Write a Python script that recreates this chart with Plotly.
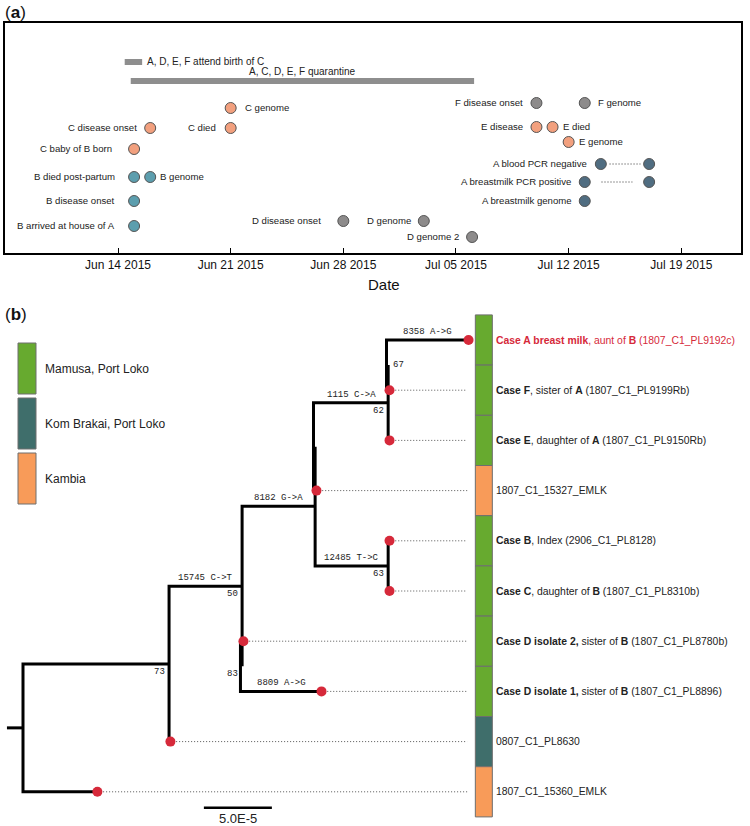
import plotly.graph_objects as go
import pandas as pd

# ======================= DATA =======================
# ---- Panel (a): timeline of events ----
event_labels = ["B arrived at house of A", "B disease onset", "B died post-partum", "B genome",
                "C baby of B born", "C disease onset", "C died", "C genome",
                "D disease onset", "D genome", "D genome 2",
                "E disease", "E died", "E genome",
                "F disease onset", "F genome",
                "A breastmilk genome"]
event_dates = ["2015-06-15", "2015-06-15", "2015-06-15", "2015-06-16",
               "2015-06-15", "2015-06-16", "2015-06-21", "2015-06-21",
               "2015-06-28", "2015-07-03", "2015-07-06",
               "2015-07-10", "2015-07-11", "2015-07-12",
               "2015-07-10", "2015-07-13",
               "2015-07-13"]
event_levels = [27, 52, 76, 76, 104, 125, 125, 145, 32, 32, 16, 126, 126, 111, 150, 150, 52]
event_person = ["B", "B", "B", "B", "C", "C", "C", "C", "D", "D", "D", "E", "E", "E", "F", "F", "A"]
event_side = ["left", "left", "left", "right", "left", "left", "left", "right",
              "left", "left", "left", "left", "right", "right", "left", "right", "left"]

pcr_labels = ["A blood PCR negative", "A breastmilk PCR positive"]
pcr_first = ["2015-07-14", "2015-07-13"]
pcr_second = ["2015-07-17", "2015-07-17"]
pcr_levels = [89, 71]

period_labels = ["A, D, E, F attend birth of C", "A, C, D, E, F quarantine"]
period_start = ["2015-06-14 10:00", "2015-06-14 19:00"]
period_end = ["2015-06-15 12:00", "2015-07-06 03:00"]
period_levels = [191, 172]

# ---- Panel (b): phylogeny ----
tip_names = ["A", "F", "E", "EMLK15327", "B", "C", "D2", "D1", "PL8630", "EMLK15360"]
tip_labels = ["<b>Case A breast milk</b>, aunt of <b>B</b> (1807_C1_PL9192c)",
              "<b>Case F</b>, sister of <b>A</b> (1807_C1_PL9199Rb)",
              "<b>Case E</b>, daughter of <b>A</b> (1807_C1_PL9150Rb)",
              "1807_C1_15327_EMLK",
              "<b>Case B</b>, Index (2906_C1_PL8128)",
              "<b>Case C</b>, daughter of <b>B</b> (1807_C1_PL8310b)",
              "<b>Case D isolate 2,</b> sister of <b>B</b> (1807_C1_PL8780b)",
              "<b>Case D isolate 1,</b> sister of <b>B</b> (1807_C1_PL8896)",
              "0807_C1_PL8630",
              "1807_C1_15360_EMLK"]
tip_region = ["Mamusa, Port Loko", "Mamusa, Port Loko", "Mamusa, Port Loko", "Kambia",
              "Mamusa, Port Loko", "Mamusa, Port Loko", "Mamusa, Port Loko", "Mamusa, Port Loko",
              "Kom Brakai, Port Loko", "Kambia"]
region_names = ["Mamusa, Port Loko", "Kom Brakai, Port Loko", "Kambia"]

# edges of the tree (branch length in units of 1e-5 substitutions/site)
edge_child = ["n73", "EMLK15360", "n50", "PL8630", "n315", "n83", "D2", "D1",
              "nZ", "n63", "n62", "EMLK15327", "nW", "E", "A", "F", "B", "C"]
edge_parent = ["root", "root", "n73", "n73", "n50", "n50", "n83", "n83",
               "n315", "n315", "nZ", "nZ", "n62", "n62", "nW", "nW", "n63", "n63"]
edge_length = [10.74, 5.37, 5.37, 0.0, 5.37, 0.0, 0.0, 5.74,
               0.0, 5.37, 5.37, 0.0, 0.0, 0.0, 5.81, 0.0, 0.0, 0.0]

mutation_node = ["n50", "n315", "n62", "n63", "A", "D1"]
mutation_text = ["15745 C->T", "8182 G->A", "1115 C->A", "12485 T->C", "8358 A->G", "8809 A->G"]

support_node = ["n73", "n50", "n83", "n62", "n63", "nW"]
support_value = [73, 50, 83, 62, 63, 67]

scale_bar_length = 5.0   # 1e-5 units
scale_bar_label = "5.0E-5"

# ======================= STYLE =======================
SANS = "Liberation Sans, Arial, Helvetica, sans-serif"
MONO = "Liberation Mono, Courier New, monospace"
person_color = {"A": "#506D81", "B": "#5C9EAE", "C": "#F2A07E", "D": "#8D8B8B",
                "E": "#F2A07E", "F": "#8D8B8B"}
region_color = {"Mamusa, Port Loko": "#67AA2F", "Kom Brakai, Port Loko": "#3F6E6B",
                "Kambia": "#F89B59"}
RED = "#D6293A"
TXT = "#222222"
EV_FONT = 9.6

W, H = 750, 826
A_LEFT, A_RIGHT, A_TOP, A_BOTTOM = 5, 741, 23, 253
PX_PER_UNIT = 13.6
ROOT_PX = 23
ROW0_PX = 340
ROW_PX = 50.2
B_TOP_FRAC = 0.64

fig = go.Figure()

# ======================= PANEL (a) =======================
dt = pd.to_datetime(event_dates)
fig.add_trace(go.Scatter(
    x=dt, y=event_levels, mode="markers",
    marker=dict(size=11, color=[person_color[p] for p in event_person],
                line=dict(color="#555555", width=1)),
    hoverinfo="skip", showlegend=False, xaxis="x", yaxis="y"))

gap_override = {"B arrived at house of A": 17, "B disease onset": 17, "B died post-partum": 17,
                "C baby of B born": 20, "D disease onset": 20, "C died": 13,
                "C genome": 12, "F genome": 11}
annotations = []
for lab, d, lev, side in zip(event_labels, dt, event_levels, event_side):
    gap = gap_override.get(lab, 11 if side == "left" else 8)
    annotations.append(dict(
        x=d, y=lev, xref="x", yref="y", text=lab, showarrow=False,
        xanchor="right" if side == "left" else "left",
        xshift=-gap if side == "left" else gap,
        font=dict(family=SANS, size=EV_FONT, color=TXT)))

p1 = pd.to_datetime(pcr_first)
p2 = pd.to_datetime(pcr_second)
fig.add_trace(go.Scatter(
    x=list(p1) + list(p2), y=pcr_levels + pcr_levels, mode="markers",
    marker=dict(size=11, color=person_color["A"], line=dict(color="#555555", width=1)),
    hoverinfo="skip", showlegend=False, xaxis="x", yaxis="y"))
half = pd.Timedelta(hours=23)
for lab, a, b, lev in zip(pcr_labels, p1, p2, pcr_levels):
    mid = a + (b - a) / 2
    fig.add_trace(go.Scatter(
        x=[mid - half, mid + half], y=[lev, lev], mode="lines",
        line=dict(color="#333333", width=1, dash="1px,2px"),
        hoverinfo="skip", showlegend=False, xaxis="x", yaxis="y"))
    annotations.append(dict(
        x=a, y=lev, xref="x", yref="y", text=lab, showarrow=False,
        xanchor="right", xshift=-12,
        font=dict(family=SANS, size=EV_FONT, color=TXT)))

ps = pd.to_datetime(period_start)
pe = pd.to_datetime(period_end)
for i, (lab, s, e, lev) in enumerate(zip(period_labels, ps, pe, period_levels)):
    fig.add_trace(go.Scatter(
        x=[s, e], y=[lev, lev], mode="lines",
        line=dict(color="#8E8E8E", width=6),
        hoverinfo="skip", showlegend=False, xaxis="x", yaxis="y"))
    if i == 0:
        annotations.append(dict(x=e, y=lev, xref="x", yref="y", text=lab, showarrow=False,
                                xanchor="left", xshift=3,
                                font=dict(family=SANS, size=10, color=TXT)))
    else:
        annotations.append(dict(x=s + (e - s) / 2, y=lev, xref="x", yref="y", text=lab,
                                showarrow=False, xanchor="center", yanchor="bottom", yshift=2,
                                font=dict(family=SANS, size=10, color=TXT)))

# ======================= PANEL (b) =======================
parent_of = dict(zip(edge_child, edge_parent))
length_of = dict(zip(edge_child, edge_length))
children = {}
for c, p in zip(edge_child, edge_parent):
    children.setdefault(p, []).append(c)

xpos = {"root": 0.0}
pending = list(edge_child)
while pending:
    rest = []
    for c in pending:
        p = parent_of[c]
        if p in xpos:
            xpos[c] = xpos[p] + length_of[c]
        else:
            rest.append(c)
    pending = rest

ypos = {name: i + 1 for i, name in enumerate(tip_names)}


def get_y(n):
    if n not in ypos:
        ys = [get_y(c) for c in children[n]]
        ypos[n] = sum(ys) / len(ys)
    return ypos[n]


get_y("root")

lx, ly = [], []
OFFSET = 0.12
for node, kids in children.items():
    nx = xpos[node]
    if node != "root" and length_of[node] == 0:
        nx -= OFFSET
    kids_sorted = sorted(kids, key=lambda k: ypos[k])
    top, bot = kids_sorted[0], kids_sorted[-1]
    lx += [xpos[top], nx, nx, xpos[bot], None]
    ly += [ypos[top], ypos[top], ypos[bot], ypos[bot], None]
lx += [-1.18, 0.0, None]
ly += [ypos["root"], ypos["root"], None]
fig.add_trace(go.Scatter(x=lx, y=ly, mode="lines", line=dict(color="black", width=3),
                         hoverinfo="skip", showlegend=False, xaxis="x2", yaxis="y2"))

x_align = max(xpos[t] for t in tip_names)
dx, dy = [], []
for t in tip_names:
    if xpos[t] < x_align - 1e-9:
        dx += [xpos[t] + 0.3, x_align, None]
        dy += [ypos[t], ypos[t], None]
fig.add_trace(go.Scatter(x=dx, y=dy, mode="lines",
                         line=dict(color="#555555", width=1, dash="1px,2px"),
                         hoverinfo="skip", showlegend=False, xaxis="x2", yaxis="y2"))

fig.add_trace(go.Scatter(x=[xpos[t] + 0.1 for t in tip_names], y=[ypos[t] for t in tip_names],
                         mode="markers", marker=dict(size=10, color=RED),
                         hoverinfo="skip", showlegend=False, xaxis="x2", yaxis="y2"))

for n, txt in zip(mutation_node, mutation_text):
    annotations.append(dict(x=(xpos[parent_of[n]] + xpos[n]) / 2, y=ypos[n],
                            xref="x2", yref="y2", text=txt, showarrow=False,
                            xanchor="center", yanchor="bottom", yshift=1,
                            font=dict(family=MONO, size=9, color=TXT)))
for n, v in zip(support_node, support_value):
    if n == "nW":
        annotations.append(dict(x=xpos[n], y=ypos[n], xref="x2", yref="y2", text=str(v),
                                showarrow=False, xanchor="left", yanchor="middle", xshift=3,
                                font=dict(family=MONO, size=9, color=TXT)))
    else:
        annotations.append(dict(x=xpos[n], y=ypos[n], xref="x2", yref="y2", text=str(v),
                                showarrow=False, xanchor="right", yanchor="top",
                                xshift=-2, yshift=-1,
                                font=dict(family=MONO, size=9, color=TXT)))

shapes = []
strip_x0 = x_align + 0.6
strip_x1 = strip_x0 + 1.25
for t, lab, reg in zip(tip_names, tip_labels, tip_region):
    shapes.append(dict(type="rect", xref="x2", yref="y2",
                       x0=strip_x0, x1=strip_x1, y0=ypos[t] - 0.5, y1=ypos[t] + 0.5,
                       fillcolor=region_color[reg], line=dict(color="#6E6E6E", width=1)))
    annotations.append(dict(x=strip_x1, y=ypos[t], xref="x2", yref="y2", text=lab,
                            showarrow=False, xanchor="left", xshift=2,
                            font=dict(family=SANS, size=10.4,
                                      color=RED if t == "A" else TXT)))

sb_x0 = 13.3
sb_y = len(tip_names) + 0.32
fig.add_trace(go.Scatter(x=[sb_x0, sb_x0 + scale_bar_length], y=[sb_y, sb_y], mode="lines",
                         line=dict(color="black", width=2.5),
                         hoverinfo="skip", showlegend=False, xaxis="x2", yaxis="y2"))
annotations.append(dict(x=sb_x0 + scale_bar_length / 2, y=sb_y, xref="x2", yref="y2",
                        text=scale_bar_label, showarrow=False, yanchor="top", yshift=-1,
                        font=dict(family=SANS, size=13, color=TXT)))

leg_tops = [343, 398, 453]
for name, top in zip(region_names, leg_tops):
    shapes.append(dict(type="rect", xref="paper", yref="paper",
                       x0=18 / W, x1=36 / W, y0=1 - (top + 51) / H, y1=1 - top / H,
                       fillcolor=region_color[name], line=dict(color="#6E6E6E", width=1)))
    annotations.append(dict(x=43 / W, y=1 - (top + 26) / H, xref="paper", yref="paper",
                            text=name, showarrow=False, xanchor="left", yanchor="middle",
                            font=dict(family=SANS, size=12, color=TXT)))

annotations.append(dict(x=3 / W, y=1 - 12 / H, xref="paper", yref="paper", text="(<b>a</b>)",
                        showarrow=False, xanchor="left", yanchor="middle",
                        font=dict(family=SANS, size=17, color="#111111")))
annotations.append(dict(x=3 / W, y=1 - 314 / H, xref="paper", yref="paper", text="(<b>b</b>)",
                        showarrow=False, xanchor="left", yanchor="middle",
                        font=dict(family=SANS, size=17, color="#111111")))
annotations.append(dict(x=384 / W, y=1 - 285 / H, xref="paper", yref="paper", text="Date",
                        showarrow=False, xanchor="center", yanchor="middle",
                        font=dict(family=SANS, size=15, color="#111111")))

b_top_px = H * (1 - B_TOP_FRAC)
y2_range = [1 + (H - ROW0_PX) / ROW_PX, 1 + (b_top_px - ROW0_PX) / ROW_PX]
x2_range = [-ROOT_PX / PX_PER_UNIT, (W - ROOT_PX) / PX_PER_UNIT]

fig.update_layout(
    width=W, height=H, margin=dict(l=0, r=0, t=0, b=0),
    paper_bgcolor="white", plot_bgcolor="white",
    showlegend=False,
    xaxis=dict(type="date", domain=[A_LEFT / W, A_RIGHT / W],
               range=["2015-06-06 23:30", "2015-07-22 17:00"],
               tick0="2015-06-14", dtick=7 * 86400000, tickformat="%b %d %Y",
               ticks="inside", ticklen=5, tickwidth=1, tickcolor="black",
               showline=True, mirror=True, linecolor="black", linewidth=1.5,
               showgrid=False, zeroline=False,
               tickfont=dict(family=SANS, size=12, color="#111111"),
               anchor="y", fixedrange=True),
    yaxis=dict(domain=[1 - A_BOTTOM / H, 1 - A_TOP / H], range=[0, 230],
               showline=True, mirror=True, linecolor="black", linewidth=1.5,
               showticklabels=False, ticks="", showgrid=False, zeroline=False,
               anchor="x", fixedrange=True),
    xaxis2=dict(domain=[0, 1], range=x2_range, visible=False, anchor="y2", fixedrange=True),
    yaxis2=dict(domain=[0, B_TOP_FRAC], range=y2_range, visible=False, anchor="x2",
                fixedrange=True),
    shapes=shapes, annotations=annotations,
)

fig.write_html("out.html", post_script="document.body.style.margin='0';",
               config={"displayModeBar": False})
